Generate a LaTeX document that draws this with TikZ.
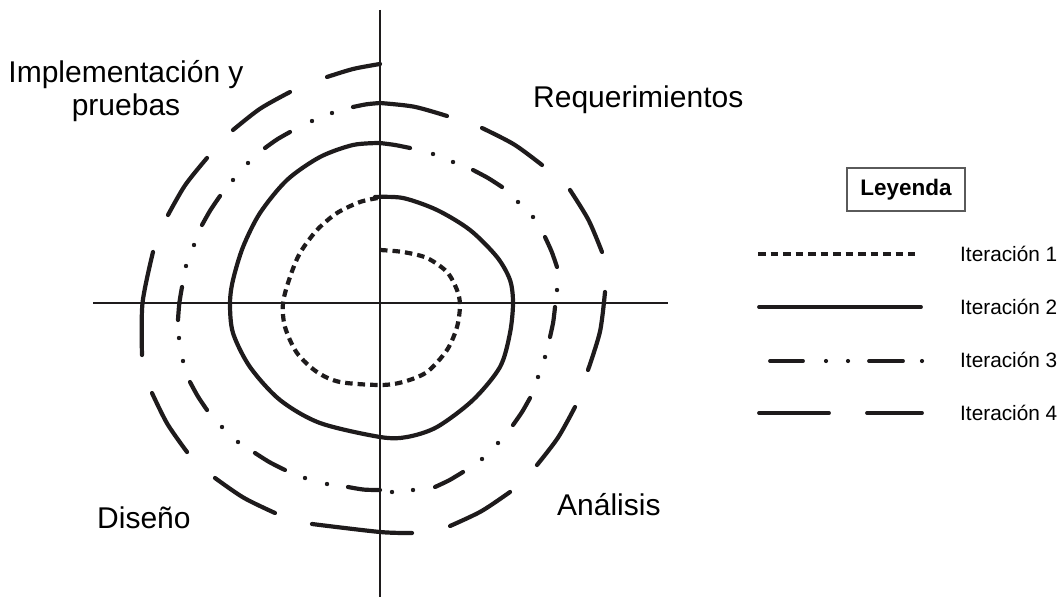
\documentclass[tikz,border=0pt]{standalone}
\usepackage{fontspec}
\setmainfont{Liberation Sans}
\definecolor{ink}{RGB}{30,27,28}
\definecolor{boxgray}{RGB}{90,90,90}
\begin{document}
\begin{tikzpicture}[x=1pt,y=-1pt,
  axisline/.style={draw=ink,line width=2pt},
  itone/.style={draw=ink,line width=4.2pt,dash pattern=on 7.5pt off 5pt,line cap=butt},
  ittwo/.style={draw=ink,line width=4.2pt,line cap=round,line join=round},
  itdash/.style={draw=ink,line width=4.2pt,line cap=round},
  dotmark/.style={fill=ink},
  bigtxt/.style={font=\fontsize{30}{33}\selectfont,text=black,inner sep=0pt},
  legtxt/.style={font=\fontsize{20.8}{24}\selectfont,text=black,inner sep=0pt,anchor=base west},
  legbox/.style={draw=boxgray,line width=1.2pt,font=\bfseries\fontsize{22.5}{26}\selectfont,
                 minimum width=118pt,minimum height=43pt,inner sep=0pt}]
\useasboundingbox (0,0) rectangle (1064,599);

% axes
\coordinate (vt) at (380,10);
\coordinate (vb) at (380,597);
\coordinate (hl) at (93,303);
\coordinate (hr) at (668,303);
\draw[axisline] (vt) -- (vb);
\draw[axisline] (hl) -- (hr);

% iteration 1 (dotted)
\draw[itone] plot[smooth] coordinates {(380,250) (403,252) (427,258) (447,272) (457,290) (460,305)
  (457,327) (447,350) (427,372) (403,382) (380,385) (340,382) (317,372) (297,353) (285,327)
  (283,303) (290,277) (300,253) (317,230) (337,213) (360,202) (378,198)};

% iteration 2 (solid)
\draw[ittwo] plot[smooth] coordinates {(375,197) (403,198) (437,210) (470,230) (497,257) (510,280)
  (513,303) (510,333) (500,367) (473,400) (437,427) (407,437) (380,437) (320,423) (280,400)
  (250,367) (233,333) (230,303) (233,280) (243,247) (260,213) (287,180) (320,157) (353,145) (380,143)};

% iteration 3 (dash dot dot)
\foreach \a/\m/\b in {
  {(380,143)}/{(395,145)}/{(410,148)},
  {(473,170)}/{(488,178)}/{(502,187)},
  {(545,237)}/{(551.7,251.8)}/{(557,267)},
  {(555,307)}/{(553.2,322.1)}/{(550,337)},
  {(530,398)}/{(522,412)}/{(513,425)},
  {(463,472)}/{(449.3,480.2)}/{(435,487)},
  {(380,490)}/{(364,489.6)}/{(348,487)},
  {(285,470)}/{(269.6,462.2)}/{(255,453)},
  {(207,410)}/{(197.9,396.4)}/{(190,382)},
  {(178,320)}/{(179.3,303.5)}/{(182,287)},
  {(202,225)}/{(210.4,210.2)}/{(220,196)},
  {(265,148)}/{(277.1,139.4)}/{(290,132)},
  {(353,107)}/{(366.4,104.3)}/{(380,103)}}
  {\draw[itdash] plot[smooth] coordinates {\a \m \b};}
\foreach \p in {(433,154),(453,162),(518,202),(533,217),(557,290),(545,357),(538,377),
  (498,443),(482,459),(413,490),(392,492),(327,484),(305,478),(238,442),(222,427),
  (183,361),(179,338),(186,266),(194,245),(233,180),(248,163),(312,121),(332,113)}
  {\fill[dotmark] \p circle (2.2pt);}

% iteration 4 (long dashes)
\foreach \a/\m/\b in {
  {(380,103)}/{(414,106.7)}/{(447,116)},
  {(482,128)}/{(514,144.4)}/{(542,165)},
  {(570,190)}/{(588.5,220)}/{(602,252)},
  {(605,292)}/{(600,331.5)}/{(588,370)},
  {(575,407)}/{(558,437.6)}/{(537,465)},
  {(510,492)}/{(481.2,511.3)}/{(450,526)},
  {(412,533)}/{(380,532)}/{(312,524)},
  {(275,513)}/{(243.6,497.7)}/{(215,478)},
  {(187,452)}/{(167.3,423.8)}/{(152,393)},
  {(142,355)}/{(142.5,303)}/{(153,252)},
  {(168,215)}/{(185.2,185.1)}/{(207,158)},
  {(233,130)}/{(260.1,108.7)}/{(290,92)},
  {(327,77)}/{(353.4,68.9)}/{(380,64)}}
  {\draw[itdash] plot[smooth] coordinates {\a \m \b};}

% quadrant labels
\node[bigtxt,align=center,anchor=base] (impl) at (126,116) {Implementación y\\pruebas};
\node[bigtxt,anchor=base west] (req) at (533,108) {Requerimientos};
\node[bigtxt,anchor=base west] (dis) at (97,528) {Diseño};
\node[bigtxt,anchor=base west] (ana) at (557,515) {Análisis};

% legend
\node[legbox] (ley) at (906,189.5) {Leyenda};

\coordinate (l1a) at (758,254); \coordinate (l1b) at (915,254);
\draw[itone,line width=3.8pt] (l1a) -- (l1b);
\node[legtxt] (t1) at (960,261) {Iteración 1};

\coordinate (l2a) at (759,307); \coordinate (l2b) at (921,307);
\draw[ittwo,line width=3.8pt] (l2a) -- (l2b);
\node[legtxt] (t2) at (960,314) {Iteración 2};

\coordinate (l3a) at (770,361); \coordinate (l3b) at (803,361);
\coordinate (l3c) at (869,361); \coordinate (l3d) at (903,361);
\draw[itdash,line width=3.8pt] (l3a) -- (l3b);
\draw[itdash,line width=3.8pt] (l3c) -- (l3d);
\fill[dotmark] (826,361) circle (2.1pt);
\fill[dotmark] (848,361) circle (2.1pt);
\fill[dotmark] (922,361) circle (2.1pt);
\node[legtxt] (t3) at (960,367) {Iteración 3};

\coordinate (l4a) at (759,413); \coordinate (l4b) at (829,413);
\coordinate (l4c) at (867,413); \coordinate (l4d) at (922,413);
\draw[itdash,line width=3.8pt] (l4a) -- (l4b);
\draw[itdash,line width=3.8pt] (l4c) -- (l4d);
\node[legtxt] (t4) at (960,420) {Iteración 4};
\end{tikzpicture}
\end{document}
